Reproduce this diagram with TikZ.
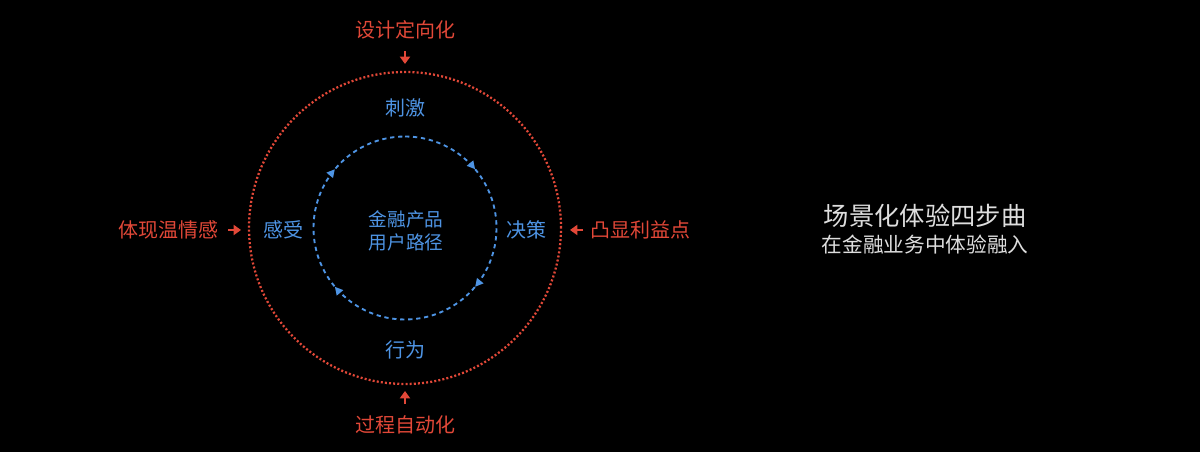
\documentclass[tikz,border=0pt]{standalone}
\usepackage{fontspec}
\setmainfont{Noto Sans CJK SC}
\usetikzlibrary{arrows.meta,decorations.markings}
\definecolor{lblred}{RGB}{226,72,56}
\definecolor{lblblue}{RGB}{78,148,228}
\definecolor{lblgrey}{RGB}{222,222,222}
\tikzset{
	redlabel/.style={text=lblred,font=\fontsize{15}{18}\selectfont},
	bluelabel/.style={text=lblblue,font=\fontsize{15}{18}\selectfont},
	redarrow/.style={draw=lblred,line width=1.8pt,-{Triangle[length=5.5pt,width=7.5pt]}},
	cyclemark/.style={decoration={markings,
		mark=at position 0.139 with {\arrow{Triangle[length=6pt,width=6pt]}},
		mark=at position 0.361 with {\arrow{Triangle[length=6pt,width=6pt]}},
		mark=at position 0.639 with {\arrow{Triangle[length=6pt,width=6pt]}},
		mark=at position 0.861 with {\arrow{Triangle[length=6pt,width=6pt]}}},
		postaction=decorate}
}
\begin{document}
\begin{tikzpicture}[x=0.75pt,y=0.75pt]
	\fill[black] (0,0) rectangle (1200,452);
	\useasboundingbox (0,0) rectangle (1200,452);
	\coordinate (C) at (405,224);
	% outer ring and inner cycle
	\draw [lblred,line width=1.7pt,dash pattern=on 1.5pt off 1.6pt] (C) circle (156);
	\draw [lblblue,line width=1.4pt,dash pattern=on 3.2pt off 2.8pt,cyclemark] (C) ++(90:91.5) arc (90:-270:91.5);
	% four steps
	\node [bluelabel] (stimulus) at (405,344) {刺激};
	\node [bluelabel] (decision) at (526,222) {决策};
	\node [bluelabel] (action) at (405,102) {行为};
	\node [bluelabel] (feeling) at (283,222) {感受};
	\node [text=lblblue,font=\fontsize{14}{17}\selectfont,align=center] (path) at (406,221) {金融产品\\用户路径};
	% outer labels
	\node [redlabel] (design) at (405,422) {设计定向化};
	\node [redlabel] (process) at (405,27) {过程自动化};
	\node [redlabel] (warmth) at (168,222) {体现温情感};
	\node [redlabel] (benefit) at (640,222) {凸显利益点};
	\coordinate (designfrom) at (405,401);
	\coordinate (designtip) at (405,388);
	\coordinate (processfrom) at (405,48);
	\coordinate (processtip) at (405,61);
	\coordinate (warmthfrom) at (228,222);
	\coordinate (warmthtip) at (241,222);
	\coordinate (benefitfrom) at (583,222);
	\coordinate (benefittip) at (570,222);
	\draw [redarrow] (designfrom) -- (designtip);
	\draw [redarrow] (processfrom) -- (processtip);
	\draw [redarrow] (warmthfrom) -- (warmthtip);
	\draw [redarrow] (benefitfrom) -- (benefittip);
	% title
	\node [text=lblgrey,font=\fontsize{19}{22}\selectfont] (title) at (925,236) {场景化体验四步曲};
	\node [text=lblgrey,font=\fontsize{15.5}{18}\selectfont] (subtitle) at (925,207) {在金融业务中体验融入};
\end{tikzpicture}
\end{document}
